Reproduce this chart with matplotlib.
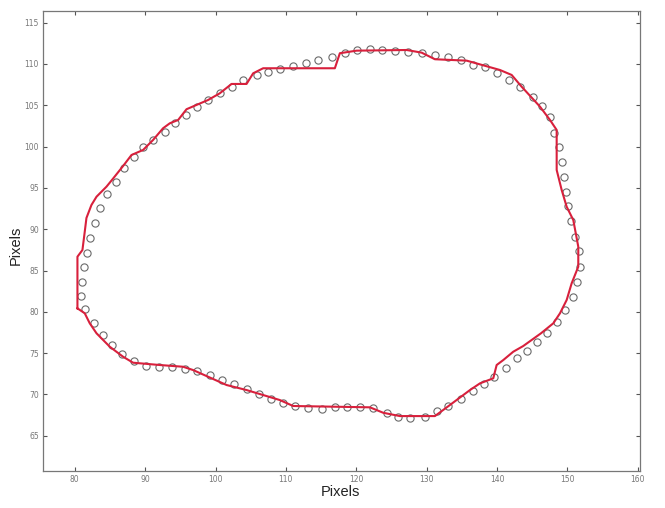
import matplotlib
matplotlib.use("Agg")
import matplotlib.pyplot as plt

# Red contour (fitted boundary)
contour_x = [80.38, 80.38, 81.09, 81.42, 81.66, 82.37, 83.09, 84.51, 85.40, 86.87,
             88.06, 89.71, 91.13, 92.55, 93.51, 94.69, 95.88, 97.30, 98.95, 100.61,
             102.28, 104.41, 105.35, 106.77, 116.96, 117.67, 120.05, 127.16, 129.29, 131.18,
             135.69, 140.42, 142.08, 143.50, 146.11, 147.53, 148.48, 148.48, 149.19, 149.90,
             150.84, 151.55, 151.55, 150.61, 149.90, 148.95, 148.00, 146.25, 143.73, 142.31,
             140.89, 139.95, 139.47, 137.58, 136.16, 133.31, 131.18, 126.20, 123.83, 121.94,
             111.03, 109.14, 104.41, 101.57, 96.82, 95.40, 92.08, 88.29, 86.87, 84.98,
             83.09, 82.13, 81.42, 80.38]
contour_y = [80.42, 86.67, 87.48, 89.70, 91.36, 92.93, 93.93, 95.15, 96.08, 97.65,
             98.98, 99.59, 100.80, 102.22, 102.82, 103.22, 104.52, 105.04, 105.64, 106.45,
             107.58, 107.58, 108.87, 109.48, 109.48, 111.30, 111.61, 111.69, 111.37, 110.57,
             110.40, 109.27, 108.67, 107.25, 104.83, 103.22, 102.01, 97.17, 94.75, 92.72,
             91.11, 87.88, 85.46, 83.45, 81.43, 79.82, 78.61, 77.40, 75.86, 75.17,
             74.16, 73.56, 71.95, 71.34, 70.53, 68.72, 67.38, 67.38, 67.78, 68.44,
             68.60, 69.32, 70.53, 71.14, 72.95, 73.35, 73.56, 73.84, 74.56, 75.77,
             77.40, 78.61, 79.82, 80.42]

# Circles (boundary points)
points_x = [81.52, 80.95, 81.00, 81.28, 81.75, 82.23, 82.84, 83.55, 84.65, 85.83,
            86.97, 88.39, 89.71, 91.13, 92.79, 94.22, 95.78, 97.30, 98.95, 100.61,
            102.28, 103.93, 105.83, 107.48, 109.14, 111.03, 112.84, 114.59, 116.49, 118.38,
            120.05, 121.94, 123.60, 125.49, 127.38, 129.29, 131.18, 133.07, 134.83, 136.63,
            138.29, 139.95, 141.74, 143.26, 145.07, 146.35, 147.53, 148.10, 148.85, 149.19,
            149.45, 149.80, 150.13, 150.47, 151.08, 151.69, 151.79, 151.41, 150.76, 149.66,
            148.48, 147.10, 145.72, 144.30, 142.79, 141.23, 139.57, 138.15, 136.54, 134.83,
            133.07, 131.42, 129.76, 127.63, 125.96, 124.31, 122.41, 120.52, 118.63, 116.96,
            115.07, 113.17, 111.28, 109.53, 107.82, 106.20, 104.50, 102.65, 100.94, 99.19,
            97.44, 95.64, 93.79, 91.98, 90.09, 88.39, 86.78, 85.36, 84.02, 82.70]
points_y = [80.30, 81.91, 83.64, 85.39, 87.15, 88.90, 90.71, 92.53, 94.23, 95.75,
            97.37, 98.78, 99.99, 100.80, 101.80, 102.82, 103.83, 104.76, 105.64, 106.53,
            107.25, 108.06, 108.67, 109.07, 109.36, 109.76, 110.16, 110.48, 110.88, 111.30,
            111.63, 111.82, 111.69, 111.61, 111.49, 111.30, 111.09, 110.88, 110.48, 109.88,
            109.60, 108.87, 108.06, 107.18, 106.04, 104.92, 103.55, 101.65, 99.92, 98.14,
            96.36, 94.54, 92.81, 90.99, 89.09, 87.36, 85.46, 83.57, 81.83, 80.22,
            78.80, 77.43, 76.31, 75.31, 74.41, 73.23, 72.14, 71.26, 70.41, 69.44,
            68.60, 68.03, 67.30, 67.11, 67.23, 67.78, 68.32, 68.44, 68.44, 68.44,
            68.20, 68.32, 68.60, 68.92, 69.44, 70.05, 70.65, 71.22, 71.74, 72.35,
            72.89, 73.07, 73.32, 73.38, 73.44, 74.04, 74.87, 75.98, 77.25, 78.64]

x_ticks = [80, 90, 100, 110, 120, 130, 140, 150, 160]
y_ticks = [65, 70, 75, 80, 85, 90, 95, 100, 105, 110, 115]

fig = plt.figure(figsize=(6.65, 5.08), dpi=100)
ax = fig.add_axes([0.0647, 0.0728, 0.8977, 0.9062])

ax.plot(points_x, points_y, linestyle='none', marker='o', markersize=5.2,
        markerfacecolor='none', markeredgecolor='#6a6a6a', markeredgewidth=0.8)
ax.plot(contour_x, contour_y, color='#d8203c', linewidth=1.5)

ax.set_xlim(75.49, 160.32)
ax.set_ylim(60.73, 116.45)
ax.set_xticks(x_ticks)
ax.set_yticks(y_ticks)
ax.tick_params(direction='in', length=3, width=0.8, labelsize=5.5,
               top=True, right=True, colors='#555555', labelcolor='#777777', pad=3)
for s in ax.spines.values():
    s.set_color('#777777')
    s.set_linewidth(0.9)

fig.text(340/665, 1 - 492/508, 'Pixels', ha='center', va='center',
         fontsize=10.5, family='Liberation Sans', color='#222222')
fig.text(16/665, 1 - 245/508, 'Pixels', ha='center', va='center', rotation=90,
         fontsize=10.5, family='Liberation Sans', color='#222222')

fig.savefig('out.png', dpi=100, facecolor='white')
